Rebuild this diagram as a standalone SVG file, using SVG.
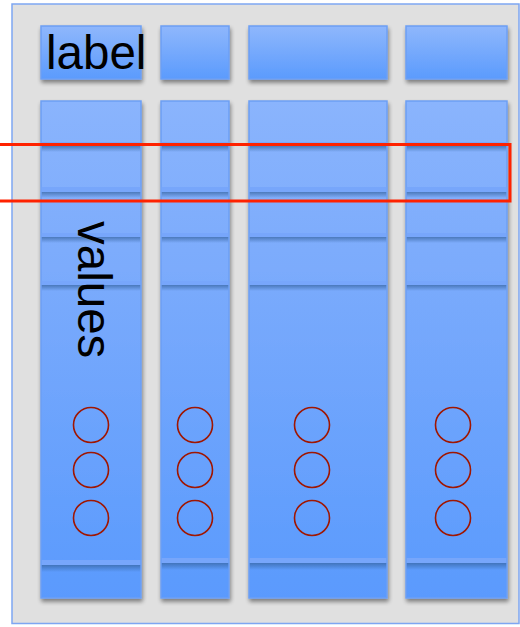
<svg xmlns="http://www.w3.org/2000/svg" width="520" height="627" viewBox="0 0 520 627">
<style>
.cell{fill:url(#gCell);stroke:#6c9ff4;stroke-width:1.5;filter:url(#sh)}
.col{fill:url(#gCol);stroke:#6c9ff4;stroke-width:1.5;filter:url(#sh)}
.band{fill:#77a6fb}
.shd{fill:url(#gShd)}
.dot{fill:none;stroke:#a01600;stroke-width:1.6}
.txt{font-family:"Liberation Sans",Arial,sans-serif;font-size:47.5px;fill:#000}
</style>
<defs>
<linearGradient id="gCell" x1="0" y1="0" x2="0" y2="1">
<stop offset="0" stop-color="#8fb7fc"/><stop offset="1" stop-color="#5b9bfd"/>
</linearGradient>
<linearGradient id="gCol" x1="0" y1="0" x2="0" y2="1">
<stop offset="0" stop-color="#8ab4fd"/><stop offset="0.3" stop-color="#7dacfc"/><stop offset="1" stop-color="#5a9afd"/>
</linearGradient>
<linearGradient id="gShd" x1="0" y1="0" x2="0" y2="1">
<stop offset="0" stop-color="#35639f" stop-opacity="0.7"/><stop offset="1" stop-color="#35639f" stop-opacity="0"/>
</linearGradient>
<filter id="sh" x="-10%" y="-10%" width="130%" height="130%">
<feGaussianBlur in="SourceAlpha" stdDeviation="2"/>
<feOffset dx="1" dy="3" result="b"/>
<feComponentTransfer><feFuncA type="linear" slope="0.45"/></feComponentTransfer>
<feMerge><feMergeNode/><feMergeNode in="SourceGraphic"/></feMerge>
</filter>
</defs>
<rect id="frame" x="12" y="4" width="507" height="619.5" fill="#e0e0e0" stroke="#7ea6f2" stroke-width="1.5"/>
<g id="labels">
<rect class="cell" x="41" y="26" width="100" height="53"/>
<rect class="cell" x="161" y="26" width="68" height="53"/>
<rect class="cell" x="249" y="26" width="138" height="53"/>
<rect class="cell" x="406" y="26" width="101" height="53"/>
<text class="txt" x="46" y="69">label</text>
</g>
<g id="col1">
<rect class="col" x="41" y="101" width="100" height="497"/>
</g>
<g id="col2">
<rect class="col" x="161" y="101" width="68" height="497"/>
</g>
<g id="col3">
<rect class="col" x="249" y="101" width="138" height="497"/>
</g>
<g id="col4">
<rect class="col" x="406" y="101" width="101" height="497"/>
</g>
<g id="dividers">
<g id="d1">
<rect class="band" x="41.75" y="142" width="98.5" height="4"/><rect class="shd" x="41.75" y="146" width="98.5" height="6"/>
<rect class="band" x="161.75" y="142" width="66.5" height="4"/><rect class="shd" x="161.75" y="146" width="66.5" height="6"/>
<rect class="band" x="249.75" y="142" width="136.5" height="4"/><rect class="shd" x="249.75" y="146" width="136.5" height="6"/>
<rect class="band" x="406.75" y="142" width="99.5" height="4"/><rect class="shd" x="406.75" y="146" width="99.5" height="6"/>
</g>
<g id="d2">
<rect class="band" x="41.75" y="187" width="98.5" height="5"/><rect class="shd" x="41.75" y="192" width="98.5" height="6"/>
<rect class="band" x="161.75" y="187" width="66.5" height="5"/><rect class="shd" x="161.75" y="192" width="66.5" height="6"/>
<rect class="band" x="249.75" y="187" width="136.5" height="5"/><rect class="shd" x="249.75" y="192" width="136.5" height="6"/>
<rect class="band" x="406.75" y="187" width="99.5" height="5"/><rect class="shd" x="406.75" y="192" width="99.5" height="6"/>
</g>
<g id="d3">
<rect class="band" x="41.75" y="233" width="98.5" height="4"/><rect class="shd" x="41.75" y="237" width="98.5" height="6"/>
<rect class="band" x="161.75" y="233" width="66.5" height="4"/><rect class="shd" x="161.75" y="237" width="66.5" height="6"/>
<rect class="band" x="249.75" y="233" width="136.5" height="4"/><rect class="shd" x="249.75" y="237" width="136.5" height="6"/>
<rect class="band" x="406.75" y="233" width="99.5" height="4"/><rect class="shd" x="406.75" y="237" width="99.5" height="6"/>
</g>
<g id="d4">
<rect class="band" x="41.75" y="281" width="98.5" height="4"/><rect class="shd" x="41.75" y="285" width="98.5" height="6"/>
<rect class="band" x="161.75" y="281" width="66.5" height="4"/><rect class="shd" x="161.75" y="285" width="66.5" height="6"/>
<rect class="band" x="249.75" y="281" width="136.5" height="4"/><rect class="shd" x="249.75" y="285" width="136.5" height="6"/>
<rect class="band" x="406.75" y="281" width="99.5" height="4"/><rect class="shd" x="406.75" y="285" width="99.5" height="6"/>
</g>
<g id="d5">
<rect class="band" x="41.75" y="560" width="98.5" height="5"/><rect class="shd" x="41.75" y="565" width="98.5" height="7"/>
<rect class="band" x="161.75" y="558" width="66.5" height="5"/><rect class="shd" x="161.75" y="563" width="66.5" height="7"/>
<rect class="band" x="249.75" y="558" width="136.5" height="5"/><rect class="shd" x="249.75" y="563" width="136.5" height="7"/>
<rect class="band" x="406.75" y="558" width="99.5" height="5"/><rect class="shd" x="406.75" y="563" width="99.5" height="7"/>
</g>
</g>
<text class="txt" transform="translate(77.5,221) rotate(90)">values</text>
<g id="dots">
<circle class="dot" cx="91" cy="425" r="17.5"/><circle class="dot" cx="91" cy="470" r="17.5"/><circle class="dot" cx="91" cy="518" r="17.5"/>
<circle class="dot" cx="195" cy="425" r="17.5"/><circle class="dot" cx="195" cy="470" r="17.5"/><circle class="dot" cx="195" cy="518" r="17.5"/>
<circle class="dot" cx="312" cy="425" r="17.5"/><circle class="dot" cx="312" cy="470" r="17.5"/><circle class="dot" cx="312" cy="518" r="17.5"/>
<circle class="dot" cx="453" cy="425" r="17.5"/><circle class="dot" cx="453" cy="470" r="17.5"/><circle class="dot" cx="453" cy="518" r="17.5"/>
</g>
<rect id="highlight" x="-5" y="144.5" width="515" height="56.5" fill="none" stroke="#ff2200" stroke-width="3"/>
</svg>
